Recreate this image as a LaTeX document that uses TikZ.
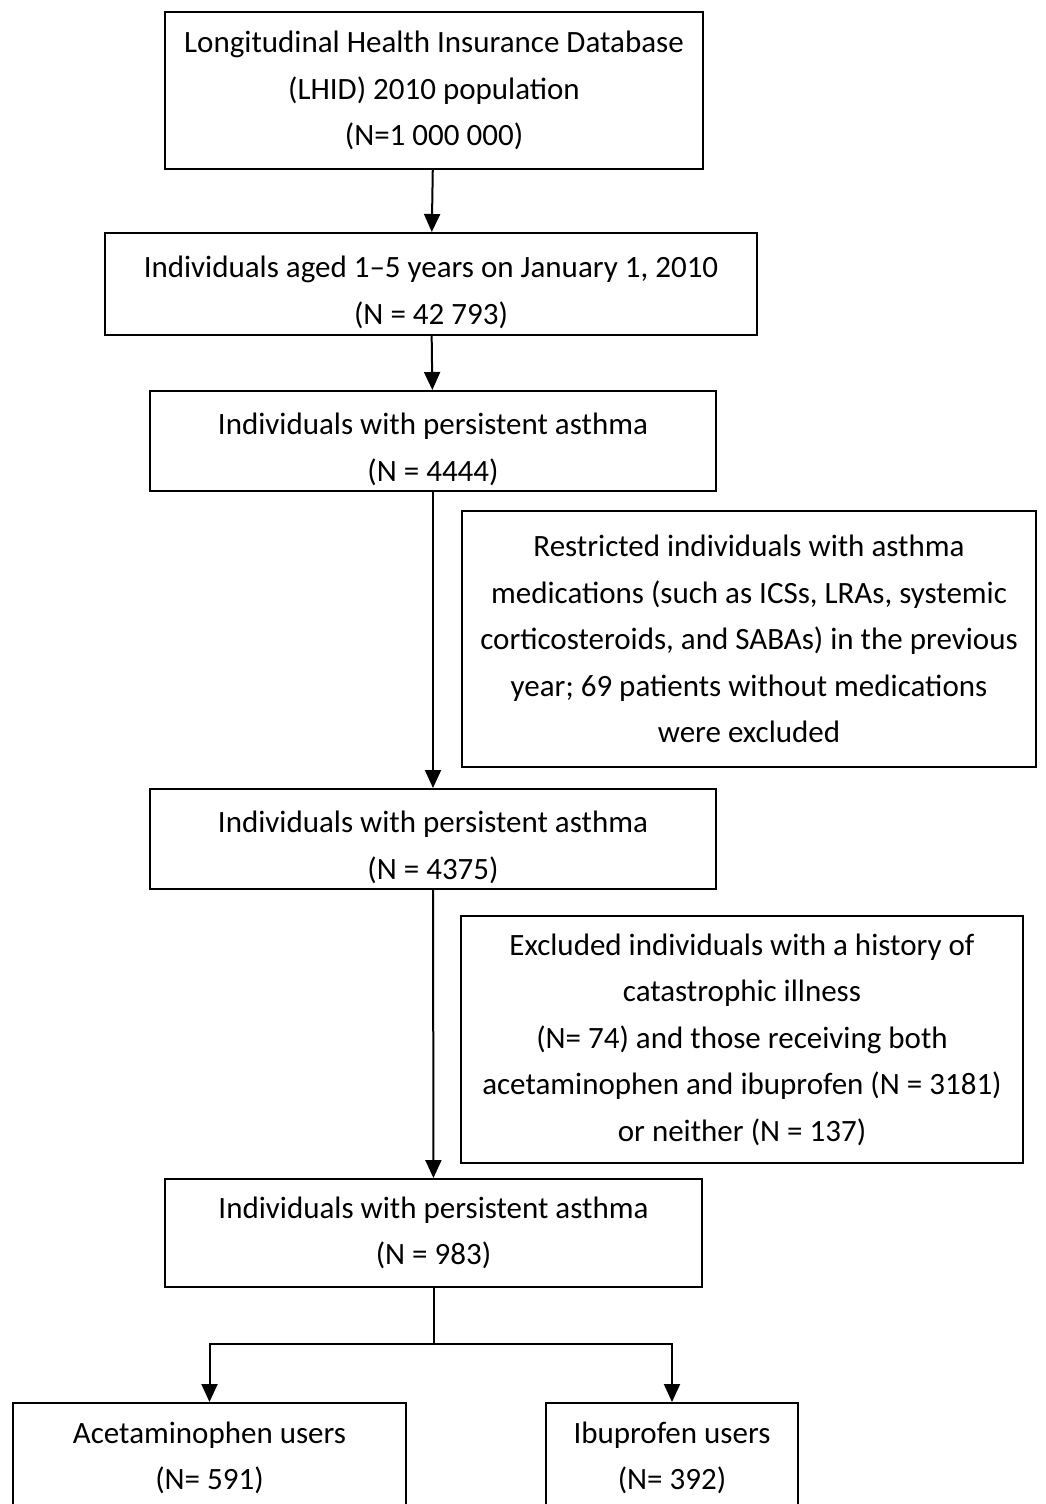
\documentclass[tikz,border=0pt]{standalone}
\usepackage{fontspec}
\setmainfont{Carlito}
\usetikzlibrary{arrows.meta}
\newcommand{\boxlift}{\rule{0pt}{38pt}}
\tikzset{
  flowbox/.style={draw, line width=2pt, align=center, inner sep=0pt, font=\fontsize{31}{46.5}\selectfont},
  flowarrow/.style={line width=2pt, -{Triangle[width=16pt, length=18pt]}}
}

\begin{document}
\begin{tikzpicture}[x=1pt, y=-1pt]
  \useasboundingbox (0,0) rectangle (1045,1504);
  \clip (0,0) rectangle (1045,1504);

  % Main flow
  \node[flowbox, minimum width=538pt, minimum height=157pt] (lhid) at (434, 90.5) {
    Longitudinal Health Insurance Database\\
    (LHID) 2010 population\\
    (N=1 000 000)
  };
  \node[flowbox, minimum width=652pt, minimum height=102pt] (aged) at (431, 284) {
    \boxlift Individuals aged 1--5 years on January 1, 2010\\
    (N = 42 793)
  };
  \node[flowbox, minimum width=566pt, minimum height=100pt] (asthmaA) at (433, 441) {
    \boxlift Individuals with persistent asthma\\
    (N = 4444)
  };
  \node[flowbox, minimum width=566pt, minimum height=100pt] (asthmaB) at (433, 839) {
    \boxlift Individuals with persistent asthma\\
    (N = 4375)
  };
  \node[flowbox, minimum width=537pt, minimum height=108pt] (asthmaC) at (433.5, 1233) {
    Individuals with persistent asthma\\
    (N = 983)
  };

  % Exclusions
  \node[flowbox, minimum width=574pt, minimum height=256pt] (restrict) at (749, 639) {
    Restricted individuals with asthma\\
    medications (such as ICSs, LRAs, systemic\\
    corticosteroids, and SABAs) in the previous\\
    year; 69 patients without medications\\
    were excluded
  };
  \node[flowbox, minimum width=562pt, minimum height=247pt] (exclude) at (742, 1039.5) {
    Excluded individuals with a history of\\
    catastrophic illness\\
    (N= 74) and those receiving both\\
    acetaminophen and ibuprofen (N = 3181)\\
    or neither (N = 137)
  };

  % Groups
  \node[flowbox, minimum width=393pt, minimum height=110pt, anchor=north] (acet) at (209.5, 1402) {
    Acetaminophen users\\
    (N= 591)
  };
  \node[flowbox, minimum width=252pt, minimum height=110pt, anchor=north] (ibu) at (672, 1402) {
    Ibuprofen users\\
    (N= 392)
  };

  % Arrows
  \draw[flowarrow] (lhid) -- (aged);
  \draw[flowarrow] (aged) -- (asthmaA);
  \draw[flowarrow] (asthmaA) -- (asthmaB);
  \draw[flowarrow] (asthmaB) -- (asthmaC);
  \coordinate (split) at (433.5, 1344);
  \draw[line width=2pt] (asthmaC.south) -- (split);
  \draw[flowarrow] (split) -| (acet.north);
  \draw[flowarrow] (split) -| (ibu.north);
\end{tikzpicture}
\end{document}
